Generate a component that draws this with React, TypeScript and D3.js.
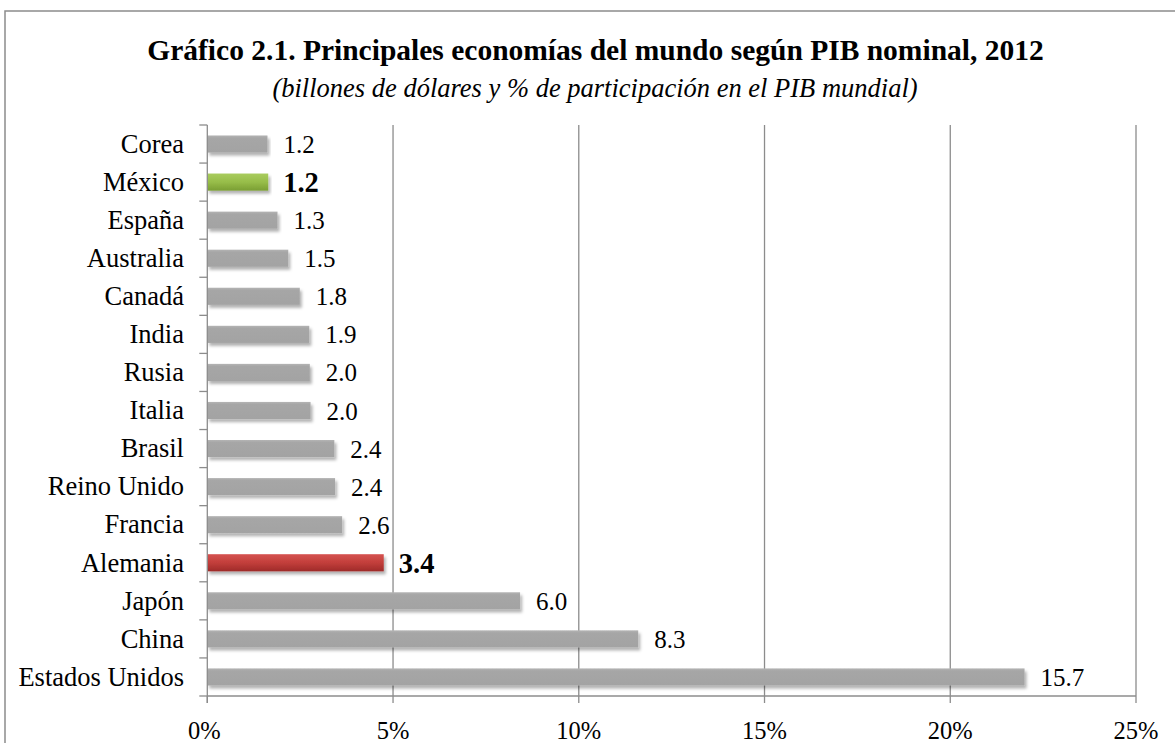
import React from "react";
import * as d3 from "d3";

const categories = [
  "Corea", "México", "España", "Australia", "Canadá", "India", "Rusia", "Italia",
  "Brasil", "Reino Unido", "Francia", "Alemania", "Japón", "China", "Estados Unidos",
];
const shares = [1.62, 1.64, 1.89, 2.18, 2.49, 2.745, 2.76, 2.78, 3.42, 3.44, 3.63, 4.75, 8.42, 11.6, 22.0];
const values = ["1.2", "1.2", "1.3", "1.5", "1.8", "1.9", "2.0", "2.0", "2.4", "2.4", "2.6", "3.4", "6.0", "8.3", "15.7"];
const highlight = ["", "green", "", "", "", "", "", "", "", "", "", "red", "", "", ""];
const xTicks = [0, 5, 10, 15, 20, 25];

const title = "Gráfico 2.1. Principales economías del mundo según PIB nominal, 2012";
const subtitle = "(billones de dólares y % de participación en el PIB mundial)";

const W = 1175, H = 743;
const M = { left: 207.3, right: 1136, top: 125, bottom: 696 };
const FONT = "'Liberation Serif', 'Times New Roman', serif";

export default function App() {
  const x = d3.scaleLinear().domain([0, 25]).range([M.left, M.right]);
  const y = d3.scaleBand<string>().domain(categories).range([M.top, M.bottom]).paddingInner(0.55).paddingOuter(0.275);
  const band = d3.scaleBand<string>().domain(categories).range([M.top, M.bottom]);
  const fillFor = (h: string) => (h === "green" ? "url(#gGreen)" : h === "red" ? "url(#gRed)" : "url(#gGray)");

  return (
    <svg width={W} height={H} style={{ position: "absolute", left: 0, top: 0, background: "#fff" }}>
      <defs>
        <filter id="shadow" x="-5%" y="-50%" width="110%" height="220%">
          <feDropShadow dx="2" dy="3" stdDeviation="1.8" floodColor="#000" floodOpacity="0.3" />
        </filter>
        <linearGradient id="gGray" x1="0" y1="0" x2="0" y2="1">
          <stop offset="0" stopColor="#b4b4b4" />
          <stop offset="0.15" stopColor="#a6a6a6" />
          <stop offset="1" stopColor="#a3a3a3" />
        </linearGradient>
        <linearGradient id="gGreen" x1="0" y1="0" x2="0" y2="1">
          <stop offset="0" stopColor="#a9cc5e" />
          <stop offset="0.5" stopColor="#97bd49" />
          <stop offset="1" stopColor="#7a9e34" />
        </linearGradient>
        <linearGradient id="gRed" x1="0" y1="0" x2="0" y2="1">
          <stop offset="0" stopColor="#d55350" />
          <stop offset="0.5" stopColor="#c23e3b" />
          <stop offset="1" stopColor="#9e2b29" />
        </linearGradient>
      </defs>

      <rect x={5} y={11} width={1175} height={740} fill="none" stroke="#8c8c8c" strokeWidth={1.5} />

      <text x={595.5} y={60} textAnchor="middle" fontFamily={FONT} fontWeight="bold" fontSize={29.5}>{title}</text>
      <text x={595} y={96.5} textAnchor="middle" fontFamily={FONT} fontStyle="italic" fontSize={26.5}>{subtitle}</text>

      {xTicks.slice(1).map((t) => (
        <line key={"g" + t} x1={x(t)} x2={x(t)} y1={M.top} y2={M.bottom} stroke="#8c8c8c" strokeWidth={1.3} />
      ))}

      {categories.map((c, i) => (
        <rect key={"b" + c} x={x(0)} y={y(c)} width={x(shares[i]) - x(0)} height={y.bandwidth()}
          fill={fillFor(highlight[i])} filter="url(#shadow)" />
      ))}

      {/* axes */}
      <line x1={M.left} x2={M.left} y1={M.top} y2={M.bottom + 7} stroke="#8c8c8c" strokeWidth={1.3} />
      <line x1={M.left} x2={M.right} y1={M.bottom} y2={M.bottom} stroke="#8c8c8c" strokeWidth={1.3} />
      {categories.map((c) => (
        <line key={"t" + c} x1={M.left - 8} x2={M.left} y1={band(c)} y2={band(c)} stroke="#8c8c8c" strokeWidth={1.3} />
      ))}
      <line x1={M.left - 8} x2={M.left} y1={M.bottom} y2={M.bottom} stroke="#8c8c8c" strokeWidth={1.3} />
      {xTicks.map((t) => (
        <g key={"x" + t}>
          <line x1={x(t)} x2={x(t)} y1={M.bottom} y2={M.bottom + 7} stroke="#8c8c8c" strokeWidth={1.3} />
          <text x={x(t) - (t === 0 ? 3 : 0)} y={739} textAnchor="middle" fontFamily={FONT} fontSize={24.5}>{t + "%"}</text>
        </g>
      ))}

      {categories.map((c) => (
        <text key={"l" + c} x={184} y={(band(c) as number) + band.bandwidth() / 2} dy="0.33em" textAnchor="end"
          fontFamily={FONT} fontSize={26.5}>{c}</text>
      ))}

      {categories.map((c, i) => {
        const bold = highlight[i] !== "";
        return (
          <text key={"v" + c} x={x(shares[i]) + (bold ? 15 : 16)} y={(band(c) as number) + band.bandwidth() / 2}
            dy="0.36em" fontFamily={FONT} fontSize={bold ? 28.5 : 25} fontWeight={bold ? "bold" : "normal"}>{values[i]}</text>
        );
      })}
    </svg>
  );
}
